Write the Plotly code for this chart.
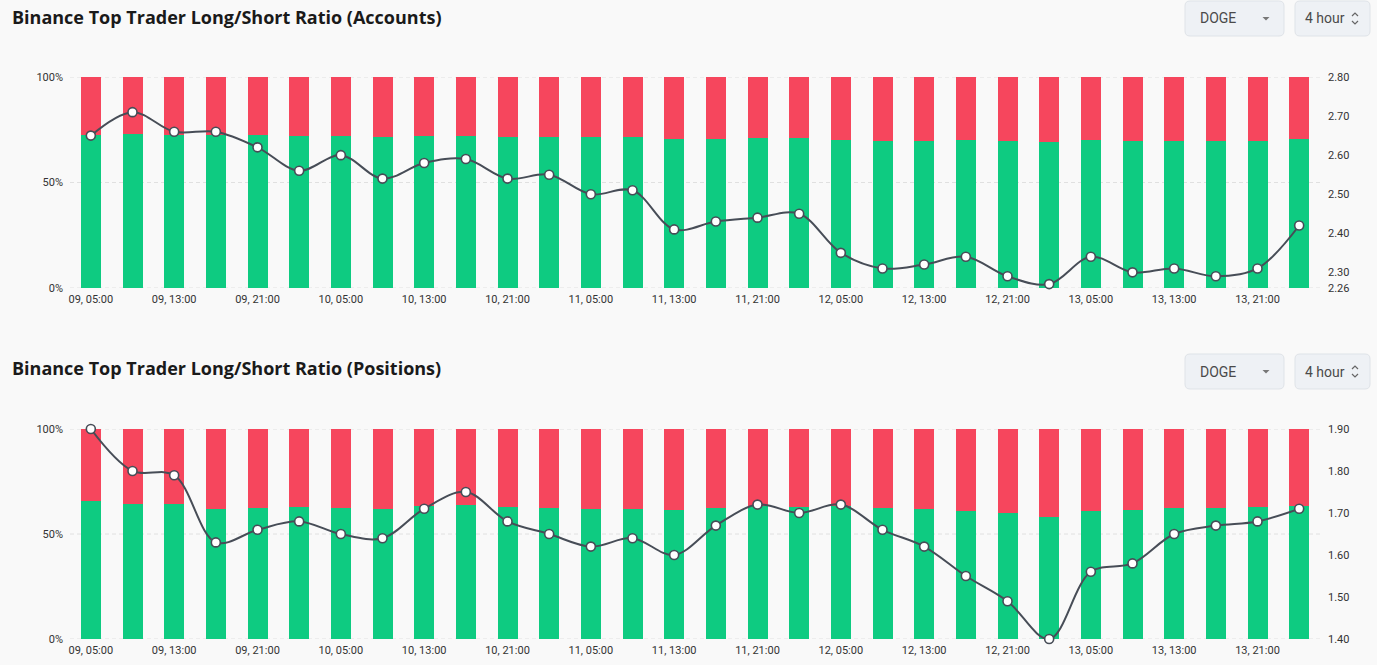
import plotly.graph_objects as go

W, H = 1377, 665

times = [
    "09, 05:00", "09, 09:00", "09, 13:00", "09, 17:00", "09, 21:00", "10, 01:00",
    "10, 05:00", "10, 09:00", "10, 13:00", "10, 17:00", "10, 21:00", "11, 01:00",
    "11, 05:00", "11, 09:00", "11, 13:00", "11, 17:00", "11, 21:00", "12, 01:00",
    "12, 05:00", "12, 09:00", "12, 13:00", "12, 17:00", "12, 21:00", "13, 01:00",
    "13, 05:00", "13, 09:00", "13, 13:00", "13, 17:00", "13, 21:00", "14, 01:00",
]
tick_labels = [
    "09, 05:00", "09, 13:00", "09, 21:00", "10, 05:00", "10, 13:00", "10, 21:00",
    "11, 05:00", "11, 13:00", "11, 21:00", "12, 05:00", "12, 13:00", "12, 21:00",
    "13, 05:00", "13, 13:00", "13, 21:00",
]

# Accounts
acc_long_pct = [72.6, 73.0, 72.7, 72.7, 72.4, 71.9, 72.2, 71.8, 72.1, 72.1,
                71.8, 71.8, 71.4, 71.5, 70.7, 70.8, 70.9, 71.0, 70.1, 69.8,
                69.9, 70.1, 69.6, 69.4, 70.1, 69.7, 69.8, 69.6, 69.8, 70.8]
acc_ratio = [2.65, 2.71, 2.66, 2.66, 2.62, 2.56, 2.60, 2.54, 2.58, 2.59,
             2.54, 2.55, 2.50, 2.51, 2.41, 2.43, 2.44, 2.45, 2.35, 2.31,
             2.32, 2.34, 2.29, 2.27, 2.34, 2.30, 2.31, 2.29, 2.31, 2.42]
acc_ratio_ticks = [2.26, 2.30, 2.40, 2.50, 2.60, 2.70, 2.80]

# Positions
pos_long_pct = [65.5, 64.3, 64.2, 62.0, 62.4, 62.7, 62.3, 62.1, 63.1, 63.6,
                62.7, 62.3, 61.8, 62.1, 61.5, 62.5, 63.2, 63.0, 63.2, 62.4,
                61.8, 60.8, 59.8, 58.3, 60.9, 61.2, 62.3, 62.5, 62.7, 63.1]
pos_ratio = [1.90, 1.80, 1.79, 1.63, 1.66, 1.68, 1.65, 1.64, 1.71, 1.75,
             1.68, 1.65, 1.62, 1.64, 1.60, 1.67, 1.72, 1.70, 1.72, 1.66,
             1.62, 1.55, 1.49, 1.40, 1.56, 1.58, 1.65, 1.67, 1.68, 1.71]
pos_ratio_ticks = [1.40, 1.50, 1.60, 1.70, 1.80, 1.90]

pct_ticks = [0, 50, 100]
pct_labels = ["0%", "50%", "100%"]

GREEN = "#0ecb81"
RED = "#f6465d"
LINE = "#474d57"
BG = "#f9f9f9"
TXT = "#333333"
GRID = "#e0e0e0"

def px_x(p):
    return p / W

def px_y(p):
    return 1 - p / H

fig = go.Figure()

panels = [
    dict(long=acc_long_pct, ratio=acc_ratio, ticks=acc_ratio_ticks, rng=[2.26, 2.80],
         xa="x", ya="y", ya2="y2", top=77, bot=288,
         title="Binance Top Trader Long/Short Ratio (Accounts)", ty=17, dd=1),
    dict(long=pos_long_pct, ratio=pos_ratio, ticks=pos_ratio_ticks, rng=[1.40, 1.90],
         xa="x2", ya="y3", ya2="y4", top=429, bot=639,
         title="Binance Top Trader Long/Short Ratio (Positions)", ty=368, dd=354),
]

layout_axes = {}
shapes = []
annotations = []

def rounded_rect(x0, y0, x1, y1, r):
    def P(x, y):
        return f"{px_x(x):.5f},{px_y(y):.5f}"
    return (f"M {P(x0 + r, y0)} L {P(x1 - r, y0)} Q {P(x1, y0)} {P(x1, y0 + r)} "
            f"L {P(x1, y1 - r)} Q {P(x1, y1)} {P(x1 - r, y1)} L {P(x0 + r, y1)} "
            f"Q {P(x0, y1)} {P(x0, y1 - r)} L {P(x0, y0 + r)} Q {P(x0, y0)} {P(x0 + r, y0)} Z")

for i, p in enumerate(panels):
    short = [100 - v for v in p["long"]]
    fig.add_trace(go.Bar(x=times, y=p["long"], marker_color=GREEN, marker_line_width=0,
                         xaxis=p["xa"], yaxis=p["ya"], showlegend=False, hoverinfo="skip"))
    fig.add_trace(go.Bar(x=times, y=short, marker_color=RED, marker_line_width=0,
                         xaxis=p["xa"], yaxis=p["ya"], showlegend=False, hoverinfo="skip"))
    fig.add_trace(go.Scatter(x=times, y=p["ratio"], mode="lines+markers",
                             line=dict(color=LINE, width=2, shape="spline", smoothing=1.0),
                             marker=dict(size=9, color="white", line=dict(color=LINE, width=1.6)),
                             xaxis=p["xa"], yaxis=p["ya2"], showlegend=False, hoverinfo="skip",
                             cliponaxis=False))
    dom_y = [px_y(p["bot"]), px_y(p["top"])]
    xk = "xaxis" if p["xa"] == "x" else "xaxis2"
    yk = "yaxis" if p["ya"] == "y" else "yaxis3"
    yk2 = "yaxis2" if p["ya2"] == "y2" else "yaxis4"
    layout_axes[xk] = dict(domain=[px_x(70), px_x(1320)], anchor=p["ya"], type="category",
                           categoryorder="array", categoryarray=times,
                           range=[-0.5, len(times) - 0.5], automargin=False,
                           tickmode="array", tickvals=tick_labels, ticktext=tick_labels,
                           showgrid=False, zeroline=False, showline=False, ticks="",
                           ticklabelstandoff=3,
                           tickfont=dict(family="Roboto", size=11, color=TXT))
    layout_axes[yk] = dict(domain=dom_y, anchor=p["xa"], range=[0, 100], automargin=False,
                           tickmode="array", tickvals=pct_ticks, ticktext=pct_labels,
                           showgrid=False, zeroline=False, showline=False, ticks="",
                           ticklabelstandoff=6,
                           tickfont=dict(family="Roboto", size=11, color=TXT))
    layout_axes[yk2] = dict(domain=dom_y, anchor=p["xa"], overlaying=p["ya"], side="right",
                            range=p["rng"], tickmode="array", tickvals=p["ticks"],
                            ticktext=[f"{t:.2f}" for t in p["ticks"]], automargin=False,
                            showgrid=False, zeroline=False, showline=False, ticks="",
                            ticklabelstandoff=7,
                            tickfont=dict(family="Roboto", size=11, color=TXT))
    # dashed grid lines at the percentage ticks (drawn below the bars)
    for gv in pct_ticks:
        shapes.append(dict(type="line", xref="paper", yref=p["ya"],
                           x0=px_x(70), x1=px_x(1320), y0=gv, y1=gv, layer="below",
                           line=dict(color=GRID, width=1, dash="4px,3px")))
    annotations.append(dict(text=f"<b>{p['title']}</b>", xref="paper", yref="paper",
                            x=px_x(10), y=px_y(p["ty"]), xanchor="left", yanchor="middle",
                            showarrow=False, font=dict(family="Open Sans", size=18, color="#1a1a1a")))
    t = p["dd"]
    b = t + 35
    for (x0, x1) in [(1185, 1284), (1295, 1370)]:
        shapes.append(dict(type="path", path=rounded_rect(x0, t, x1, b, 5), xref="paper", yref="paper",
                           fillcolor="#eef1f5", line=dict(color="#dfe3e8", width=1)))
    mid = (t + b) / 2
    annotations.append(dict(text="DOGE", xref="paper", yref="paper", x=px_x(1198), y=px_y(mid),
                            xanchor="left", yanchor="middle", showarrow=False,
                            font=dict(family="Roboto", size=14, color="#4a4a4a")))
    annotations.append(dict(text="4 hour", xref="paper", yref="paper", x=px_x(1303), y=px_y(mid),
                            xanchor="left", yanchor="middle", showarrow=False,
                            font=dict(family="Roboto", size=14, color="#4a4a4a")))
    cx = 1266
    shapes.append(dict(type="path", xref="paper", yref="paper",
                       path=f"M {px_x(cx-3.5)},{px_y(mid-1.5)} L {px_x(cx+3.5)},{px_y(mid-1.5)} L {px_x(cx)},{px_y(mid+2)} Z",
                       fillcolor="#777777", line=dict(width=0)))
    sx = 1355
    shapes.append(dict(type="path", xref="paper", yref="paper",
                       path=f"M {px_x(sx-3)},{px_y(mid-2.5)} L {px_x(sx)},{px_y(mid-5.5)} L {px_x(sx+3)},{px_y(mid-2.5)}",
                       line=dict(color="#666666", width=1.2)))
    shapes.append(dict(type="path", xref="paper", yref="paper",
                       path=f"M {px_x(sx-3)},{px_y(mid+2.5)} L {px_x(sx)},{px_y(mid+5.5)} L {px_x(sx+3)},{px_y(mid+2.5)}",
                       line=dict(color="#666666", width=1.2)))

fig.update_layout(
    width=W, height=H, margin=dict(l=0, r=0, t=0, b=0, pad=0, autoexpand=False),
    paper_bgcolor=BG, plot_bgcolor=BG,
    barmode="stack", bargap=0.52,
    shapes=shapes, annotations=annotations,
    hovermode=False,
    **layout_axes,
)

fig.write_html("out.html", config={"displayModeBar": False},
               post_script="document.body.style.margin='0';document.body.style.background='#f9f9f9';")
